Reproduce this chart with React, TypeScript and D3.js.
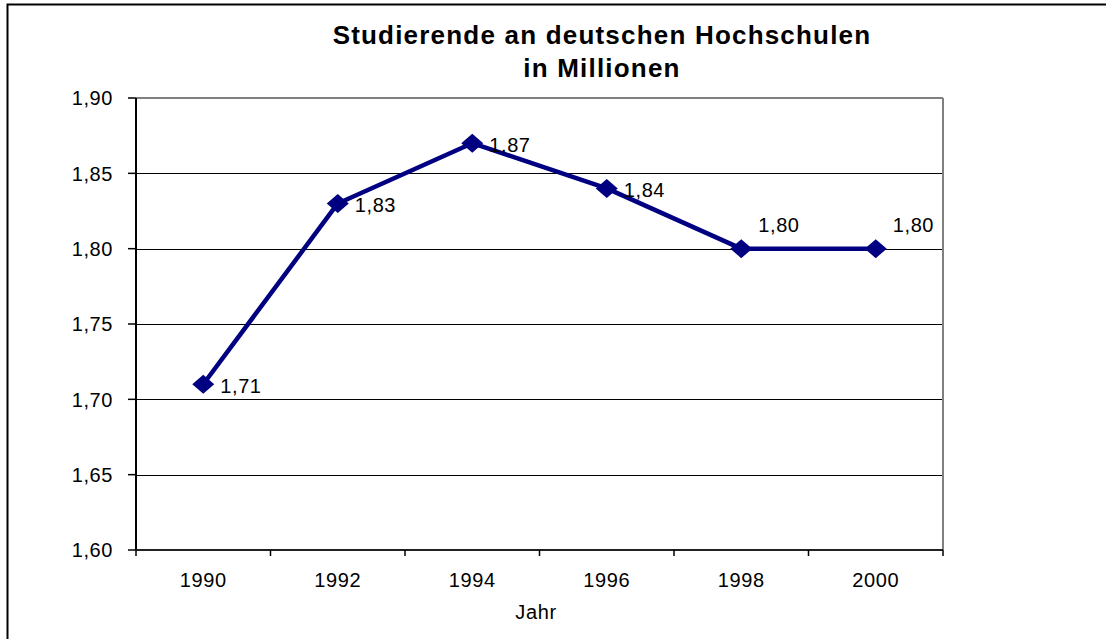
import React, { useEffect } from 'react';
import * as d3 from 'd3';

// Daten: Studierende an deutschen Hochschulen (Mio.)
const years = ['1990', '1992', '1994', '1996', '1998', '2000'];
const students = [1.71, 1.83, 1.87, 1.84, 1.8, 1.8];
const yTicks = [1.6, 1.65, 1.7, 1.75, 1.8, 1.85, 1.9];
// wo das Datenlabel steht
const labelPlacement = ['right', 'right', 'right', 'right', 'above', 'above'];

const titleLines = ['Studierende an deutschen Hochschulen', 'in Millionen'];
const xTitle = 'Jahr';

const W = 1106;
const H = 639;
const plot = { left: 136, right: 943, top: 98, bottom: 550 };
const font = '"Liberation Sans", Arial, sans-serif';
const fs = 20;
const ls = 0.6;

const fmt = (v: number) => v.toFixed(2).replace('.', ',');

const App = () => {
  useEffect(() => {
    document.body.style.margin = '0';
  }, []);

  const x = d3.scaleBand<string>().domain(years).range([plot.left, plot.right]).paddingInner(0).paddingOuter(0);
  const y = d3.scaleLinear().domain([1.6, 1.9]).range([plot.bottom, plot.top]);

  const cx = (d: string) => (x(d) as number) + x.bandwidth() / 2;

  const pts: [number, number][] = years.map((yr, i) => [cx(yr), y(students[i])]);
  const line = d3.line<[number, number]>().x(d => d[0]).y(d => d[1]);

  // Grenzen der Kategorien für die Teilstriche
  const xBounds = years.map(yr => x(yr) as number).concat([plot.right]);

  return (
    <svg width={W} height={H} style={{ display: 'block', background: '#fff' }} fontFamily={font}>
      {/* äußerer Rahmen */}
      <rect x={7.5} y={4.5} width={W + 20} height={H + 20} fill="none" stroke="#000" strokeWidth={2} />

      {/* Titel */}
      <text x={602} y={44} textAnchor="middle" fontSize={26} fontWeight="bold" letterSpacing={1.2} fill="#000">
        {titleLines[0]}
      </text>
      <text x={602} y={77} textAnchor="middle" fontSize={26} fontWeight="bold" letterSpacing={1.2} fill="#000">
        {titleLines[1]}
      </text>

      {/* Gitternetz */}
      {yTicks.slice(1, -1).map(t => (
        <line key={t} x1={plot.left} x2={plot.right} y1={Math.round(y(t)) + 0.5} y2={Math.round(y(t)) + 0.5} stroke="#000" strokeWidth={1} />
      ))}

      {/* Rahmen der Zeichenfläche (grau oben/rechts) */}
      <line x1={plot.left} x2={plot.right} y1={plot.top} y2={plot.top} stroke="#808080" strokeWidth={2} />
      <line x1={plot.right} x2={plot.right} y1={plot.top} y2={plot.bottom} stroke="#808080" strokeWidth={2} />

      {/* y-Achse */}
      <line x1={plot.left} x2={plot.left} y1={plot.top} y2={plot.bottom} stroke="#000" strokeWidth={2} />
      {yTicks.map(t => (
        <g key={t}>
          <line x1={plot.left - 8} x2={plot.left} y1={y(t)} y2={y(t)} stroke="#000" strokeWidth={1.5} />
          <text x={113} y={y(t)} dy="0.36em" textAnchor="end" fontSize={fs} letterSpacing={ls} fill="#000">
            {fmt(t)}
          </text>
        </g>
      ))}

      {/* x-Achse */}
      <line x1={plot.left} x2={plot.right} y1={plot.bottom} y2={plot.bottom} stroke="#222" strokeWidth={2} />
      {xBounds.map((b, i) => (
        <line key={i} x1={b} x2={b} y1={plot.bottom} y2={plot.bottom + 6} stroke="#000" strokeWidth={1.5} />
      ))}
      {years.map(yr => (
        <text key={yr} x={cx(yr)} y={587} textAnchor="middle" fontSize={fs} letterSpacing={ls} fill="#000">
          {yr}
        </text>
      ))}
      <text x={536} y={619} textAnchor="middle" fontSize={fs} letterSpacing={ls} fill="#000">
        {xTitle}
      </text>

      {/* Linie */}
      <path d={line(pts) || ''} fill="none" stroke="#000080" strokeWidth={4.5} strokeLinejoin="round" />
      {pts.map(([px, py], i) => (
        <path key={i} d={`M${px - 11},${py}L${px},${py - 9.5}L${px + 11},${py}L${px},${py + 9.5}Z`} fill="#000080" />
      ))}

      {/* Datenlabels */}
      {pts.map(([px, py], i) => {
        const above = labelPlacement[i] === 'above';
        return (
          <text key={i} x={px + 17} y={py + (above ? -17 : 9)} fontSize={fs} letterSpacing={ls} fill="#000">
            {fmt(students[i])}
          </text>
        );
      })}
    </svg>
  );
};

export default App;
